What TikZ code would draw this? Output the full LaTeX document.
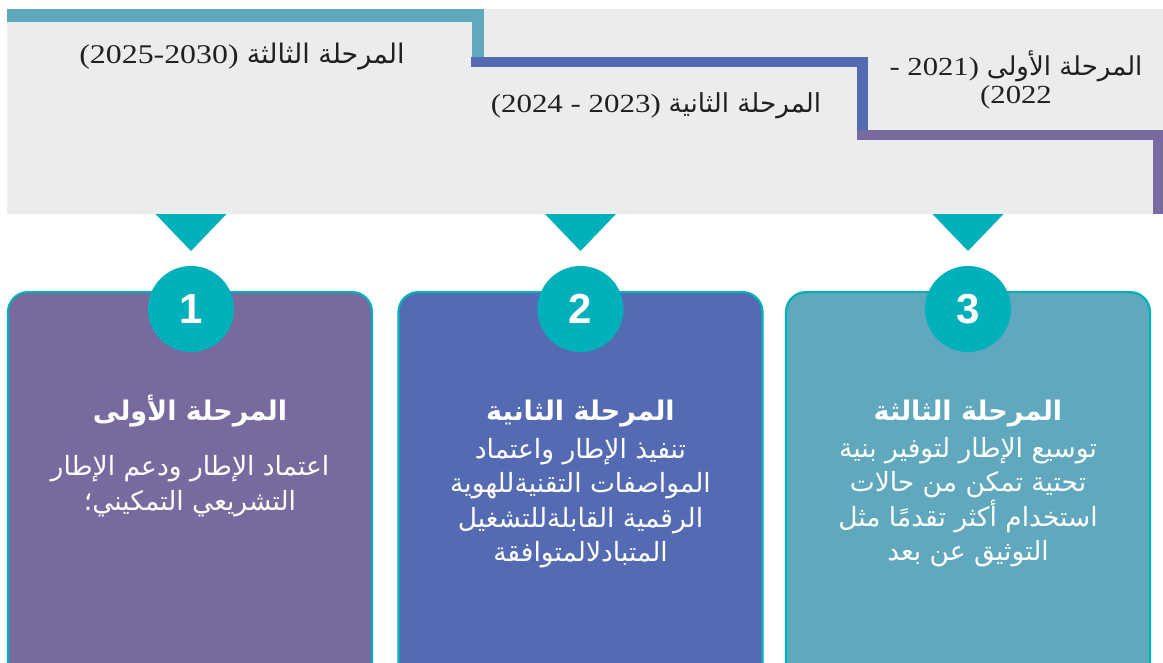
\documentclass[tikz,border=0pt]{standalone}
\usepackage{fontspec}
\TeXXeTstate=1
\newfontfamily\arabicfont[Script=Arabic]{DejaVu Sans}
\newfontfamily\numfont{Liberation Serif}
\newfontfamily\badgefont{Liberation Sans}
\newcommand{\years}[1]{\scalebox{1.18}[1]{\numfont #1}}

\definecolor{band}{HTML}{EBECEC}
\definecolor{accent}{HTML}{00B1BB}
\definecolor{phaseone}{HTML}{786A9E}
\definecolor{phasetwo}{HTML}{546BB3}
\definecolor{phasethree}{HTML}{5FA8BE}
\definecolor{ink}{HTML}{231F20}

\tikzset{
  stagebox/.style={draw=accent, line width=2.2pt, rounded corners=20pt,
    minimum width=364pt, minimum height=400pt, anchor=north, inner sep=0pt},
  badge/.style={circle, fill=accent, minimum size=86pt, inner sep=0pt,
    text=white, font=\badgefont\bfseries\fontsize{42}{42}\selectfont},
  pointer/.style={fill=accent},
  stagetitle/.style={text=white, inner sep=0pt, anchor=base,
    font=\arabicfont\bfseries\fontsize{27}{27}\selectfont},
  stagetext/.style={text=white, inner sep=0pt, align=center,
    font=\arabicfont\fontsize{26.5}{34.5}\selectfont},
  period/.style={text=ink, inner sep=0pt, align=center},
}

\begin{document}
\begin{tikzpicture}[x=1pt,y=-1pt]
\useasboundingbox (0,0) rectangle (1163,662);
\clip (0,0) rectangle (1163,662);

% timeline band
\fill[band] (7,9) rectangle (1163,214);

% stepped line, one colour per period
\fill[phasethree] (7,9) rectangle (484,22);
\fill[phasethree] (472,9) rectangle (484,57);
\fill[phasetwo] (471,57) rectangle (868,67);
\fill[phasetwo] (857,57) rectangle (868,130);
\fill[phaseone] (857,130) rectangle (1163,140);
\fill[phaseone] (1153,130) rectangle (1163,214);

% period labels
\node[period, anchor=base, font=\fontsize{27}{27}\selectfont] (p3) at (242,63)
  {\years{(2025-2030)} {\arabicfont\beginR المرحلة الثالثة\endR}};
\node[period, anchor=base, font=\fontsize{26.2}{26.2}\selectfont] (p2) at (656,112)
  {\years{(2024 - 2023)} {\arabicfont\beginR المرحلة الثانية\endR}};
\node[period, anchor=center, font=\fontsize{26}{28.5}\selectfont] (p1) at (1016,80)
  {\years{- 2021)} {\arabicfont\beginR المرحلة الأولى\endR}\\\years{(2022}};

% pointers from the band
\fill[pointer] (155.5,214) -- (226.5,214) -- (191,251) -- cycle;
\fill[pointer] (545,214) -- (616,214) -- (580.5,251) -- cycle;
\fill[pointer] (932.5,214) -- (1003.5,214) -- (968,251) -- cycle;

% stage cards
\node[stagebox, fill=phaseone] (box1) at (190,291) {};
\node[stagebox, fill=phasetwo] (box2) at (580.5,291) {};
\node[stagebox, fill=phasethree] (box3) at (968,291) {};

% numbered badges
\node[badge] (b1) at (191,309) {1};
\node[badge] (b2) at (580.5,309) {2};
\node[badge] (b3) at (968,309) {3};

% card texts
\node[stagetitle] (t1) at (190,420) {\beginR المرحلة الأولى\endR};
\node[stagetext] (d1) at (190,486)
  {\beginR اعتماد الإطار ودعم الإطار\endR\\
   \beginR التشريعي التمكيني؛\endR};

\node[stagetitle] (t2) at (580.5,420) {\beginR المرحلة الثانية\endR};
\node[stagetext] (d2) at (580.5,503)
  {\beginR تنفيذ الإطار واعتماد\endR\\
   \beginR المواصفات التقنيةللهوية\endR\\
   \beginR الرقمية القابلةللتشغيل\endR\\
   \beginR المتبادلالمتوافقة\endR};

\node[stagetitle] (t3) at (968,420) {\beginR المرحلة الثالثة\endR};
\node[stagetext] (d3) at (968,502)
  {\beginR توسيع الإطار لتوفير بنية\endR\\
   \beginR تحتية تمكن من حالات\endR\\
   \beginR استخدام أكثر تقدمًا مثل\endR\\
   \beginR التوثيق عن بعد\endR};
\end{tikzpicture}
\end{document}
